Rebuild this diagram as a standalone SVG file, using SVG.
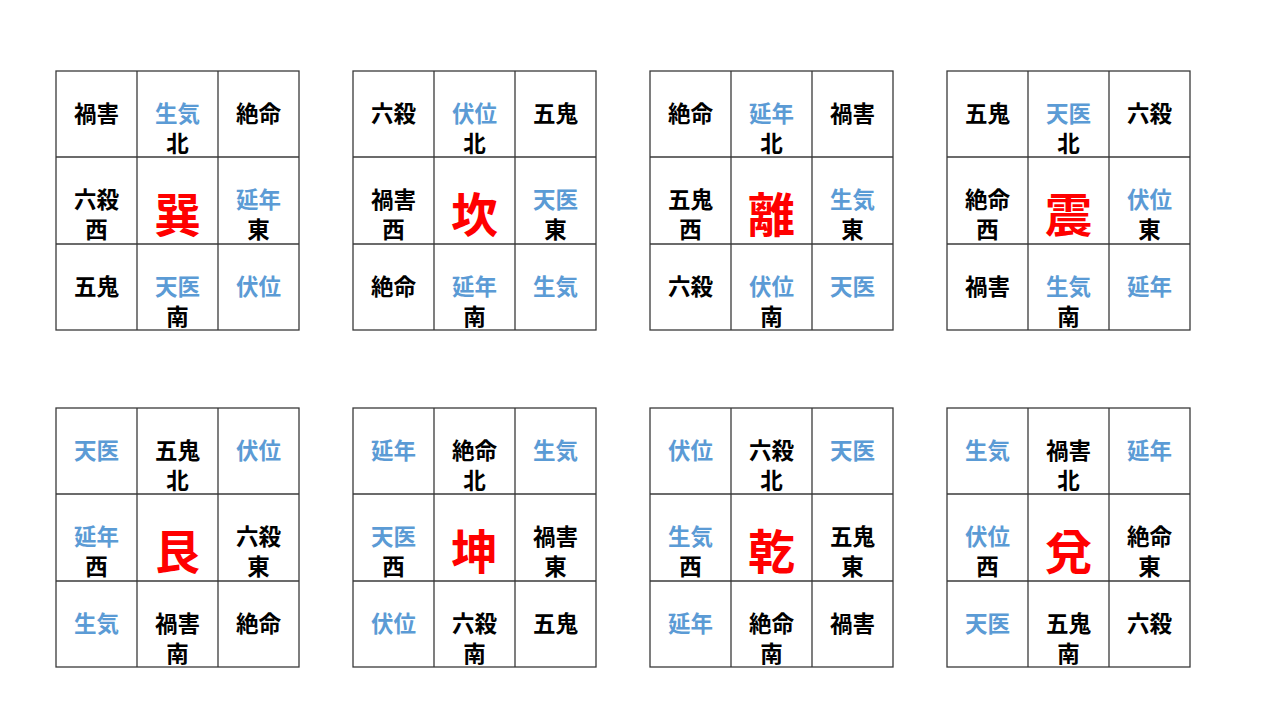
<svg xmlns="http://www.w3.org/2000/svg" width="1280" height="720" viewBox="0 0 1280 720">
<style>
text{font-family:"Noto Sans CJK JP","Noto Sans CJK SC",sans-serif;font-weight:bold;font-size:22.5px;text-anchor:middle}
.k{fill:#000}
.b{fill:#5B9BD5}
.r{fill:#FF0000;font-size:47px}
.g{fill:none;stroke:#3a3a3a;stroke-width:1.3}
</style>
<defs>
<g id="grid">
<rect class="g" x="0" y="0" width="243" height="259"/>
<line class="g" x1="81" y1="0" x2="81" y2="259"/>
<line class="g" x1="162" y1="0" x2="162" y2="259"/>
<line class="g" x1="0" y1="86" x2="243" y2="86"/>
<line class="g" x1="0" y1="173" x2="243" y2="173"/>
</g>
</defs>
<rect width="1280" height="720" fill="#fff"/>

<g id="xun" transform="translate(56,71)">
<use href="#grid"/>
<text class="k" x="40.5" y="51">禍害</text>
<text class="b" x="121.5" y="51">生気</text><text class="k" x="121.5" y="81">北</text>
<text class="k" x="202.5" y="51">絶命</text>
<text class="k" x="40.5" y="137">六殺</text><text class="k" x="40.5" y="167">西</text>
<text class="r" x="121.5" y="161">巽</text>
<text class="b" x="202.5" y="137">延年</text><text class="k" x="202.5" y="167">東</text>
<text class="k" x="40.5" y="224">五鬼</text>
<text class="b" x="121.5" y="224">天医</text><text class="k" x="121.5" y="254">南</text>
<text class="b" x="202.5" y="224">伏位</text>
</g>

<g id="kan" transform="translate(353,71)">
<use href="#grid"/>
<text class="k" x="40.5" y="51">六殺</text>
<text class="b" x="121.5" y="51">伏位</text><text class="k" x="121.5" y="81">北</text>
<text class="k" x="202.5" y="51">五鬼</text>
<text class="k" x="40.5" y="137">禍害</text><text class="k" x="40.5" y="167">西</text>
<text class="r" x="121.5" y="161">坎</text>
<text class="b" x="202.5" y="137">天医</text><text class="k" x="202.5" y="167">東</text>
<text class="k" x="40.5" y="224">絶命</text>
<text class="b" x="121.5" y="224">延年</text><text class="k" x="121.5" y="254">南</text>
<text class="b" x="202.5" y="224">生気</text>
</g>

<g id="li" transform="translate(650,71)">
<use href="#grid"/>
<text class="k" x="40.5" y="51">絶命</text>
<text class="b" x="121.5" y="51">延年</text><text class="k" x="121.5" y="81">北</text>
<text class="k" x="202.5" y="51">禍害</text>
<text class="k" x="40.5" y="137">五鬼</text><text class="k" x="40.5" y="167">西</text>
<text class="r" x="121.5" y="161">離</text>
<text class="b" x="202.5" y="137">生気</text><text class="k" x="202.5" y="167">東</text>
<text class="k" x="40.5" y="224">六殺</text>
<text class="b" x="121.5" y="224">伏位</text><text class="k" x="121.5" y="254">南</text>
<text class="b" x="202.5" y="224">天医</text>
</g>

<g id="zhen" transform="translate(947,71)">
<use href="#grid"/>
<text class="k" x="40.5" y="51">五鬼</text>
<text class="b" x="121.5" y="51">天医</text><text class="k" x="121.5" y="81">北</text>
<text class="k" x="202.5" y="51">六殺</text>
<text class="k" x="40.5" y="137">絶命</text><text class="k" x="40.5" y="167">西</text>
<text class="r" x="121.5" y="161">震</text>
<text class="b" x="202.5" y="137">伏位</text><text class="k" x="202.5" y="167">東</text>
<text class="k" x="40.5" y="224">禍害</text>
<text class="b" x="121.5" y="224">生気</text><text class="k" x="121.5" y="254">南</text>
<text class="b" x="202.5" y="224">延年</text>
</g>

<g id="gen" transform="translate(56,408)">
<use href="#grid"/>
<text class="b" x="40.5" y="51">天医</text>
<text class="k" x="121.5" y="51">五鬼</text><text class="k" x="121.5" y="81">北</text>
<text class="b" x="202.5" y="51">伏位</text>
<text class="b" x="40.5" y="137">延年</text><text class="k" x="40.5" y="167">西</text>
<text class="r" x="121.5" y="161">艮</text>
<text class="k" x="202.5" y="137">六殺</text><text class="k" x="202.5" y="167">東</text>
<text class="b" x="40.5" y="224">生気</text>
<text class="k" x="121.5" y="224">禍害</text><text class="k" x="121.5" y="254">南</text>
<text class="k" x="202.5" y="224">絶命</text>
</g>

<g id="kun" transform="translate(353,408)">
<use href="#grid"/>
<text class="b" x="40.5" y="51">延年</text>
<text class="k" x="121.5" y="51">絶命</text><text class="k" x="121.5" y="81">北</text>
<text class="b" x="202.5" y="51">生気</text>
<text class="b" x="40.5" y="137">天医</text><text class="k" x="40.5" y="167">西</text>
<text class="r" x="121.5" y="161">坤</text>
<text class="k" x="202.5" y="137">禍害</text><text class="k" x="202.5" y="167">東</text>
<text class="b" x="40.5" y="224">伏位</text>
<text class="k" x="121.5" y="224">六殺</text><text class="k" x="121.5" y="254">南</text>
<text class="k" x="202.5" y="224">五鬼</text>
</g>

<g id="qian" transform="translate(650,408)">
<use href="#grid"/>
<text class="b" x="40.5" y="51">伏位</text>
<text class="k" x="121.5" y="51">六殺</text><text class="k" x="121.5" y="81">北</text>
<text class="b" x="202.5" y="51">天医</text>
<text class="b" x="40.5" y="137">生気</text><text class="k" x="40.5" y="167">西</text>
<text class="r" x="121.5" y="161">乾</text>
<text class="k" x="202.5" y="137">五鬼</text><text class="k" x="202.5" y="167">東</text>
<text class="b" x="40.5" y="224">延年</text>
<text class="k" x="121.5" y="224">絶命</text><text class="k" x="121.5" y="254">南</text>
<text class="k" x="202.5" y="224">禍害</text>
</g>

<g id="dui" transform="translate(947,408)">
<use href="#grid"/>
<text class="b" x="40.5" y="51">生気</text>
<text class="k" x="121.5" y="51">禍害</text><text class="k" x="121.5" y="81">北</text>
<text class="b" x="202.5" y="51">延年</text>
<text class="b" x="40.5" y="137">伏位</text><text class="k" x="40.5" y="167">西</text>
<text class="r" x="121.5" y="161">兌</text>
<text class="k" x="202.5" y="137">絶命</text><text class="k" x="202.5" y="167">東</text>
<text class="b" x="40.5" y="224">天医</text>
<text class="k" x="121.5" y="224">五鬼</text><text class="k" x="121.5" y="254">南</text>
<text class="k" x="202.5" y="224">六殺</text>
</g>
</svg>
